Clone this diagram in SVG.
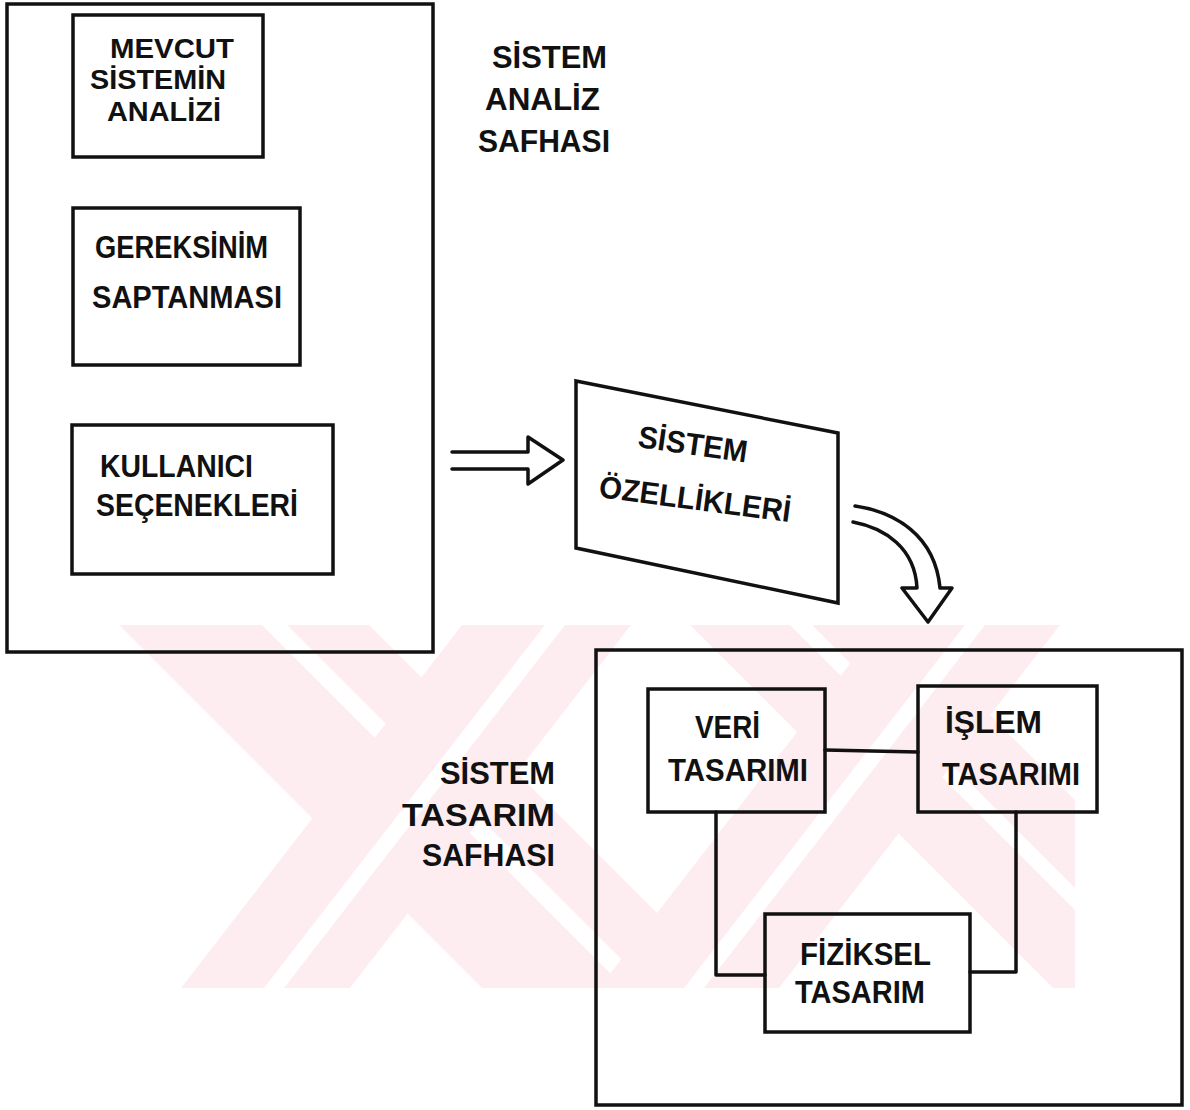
<svg xmlns="http://www.w3.org/2000/svg" width="1190" height="1110" viewBox="0 0 1190 1110">
<defs>
<style>
.box{fill:none;stroke:#111;stroke-width:3.5;stroke-linejoin:miter}
.ln{fill:none;stroke:#111;stroke-width:3.5;stroke-linecap:round;stroke-linejoin:round}
.t{font-family:"Liberation Sans","DejaVu Sans",sans-serif;font-weight:bold;font-size:31px;fill:#111}
.s{font-size:28px}
.wm{fill:#fdedf0}
.gap{fill:#fff}
</style>
<clipPath id="wmclip"><rect x="110" y="625" width="965" height="363"/></clipPath>
</defs>
<rect width="1190" height="1110" fill="#fff"/>
<g id="watermark" clip-path="url(#wmclip)">
<polygon class="wm" points="119,625 369,625 732,988 482,988"/>
<polygon class="gap" points="262,625 287,625 650,988 625,988"/>
<polygon class="wm" points="690,625 900,625 1263,988 1053,988"/>
<polygon class="gap" points="790,625 812,625 1175,988 1153,988"/>
<polygon class="wm" points="462,625 631,625 350,988 181,988"/>
<polygon class="gap" points="545,625 565,625 284,988 264,988"/>
<polygon class="wm" points="880,625 1060,625 779,988 599,988"/>
<polygon class="gap" points="965,625 985,625 704,988 684,988"/>
</g>
<g id="analysis-phase">
<rect class="box" x="7" y="4" width="426" height="648"/>
</g>
<g id="mevcut">
<rect class="box" x="73" y="15" width="190" height="142"/>
<text class="t s" x="110" y="58" textLength="124" lengthAdjust="spacingAndGlyphs">MEVCUT</text>
<text class="t s" x="90" y="89" textLength="136" lengthAdjust="spacingAndGlyphs">SİSTEMİN</text>
<text class="t s" x="107" y="121" textLength="114" lengthAdjust="spacingAndGlyphs">ANALİZİ</text>
</g>
<g id="gereksinim">
<rect class="box" x="73" y="208" width="227" height="157"/>
<text class="t" x="95" y="258" textLength="173" lengthAdjust="spacingAndGlyphs">GEREKSİNİM</text>
<text class="t" x="92" y="308" textLength="190" lengthAdjust="spacingAndGlyphs">SAPTANMASI</text>
</g>
<g id="kullanici">
<rect class="box" x="72" y="425" width="261" height="149"/>
<text class="t" x="100" y="477" textLength="153" lengthAdjust="spacingAndGlyphs">KULLANICI</text>
<text class="t" x="96" y="516" textLength="202" lengthAdjust="spacingAndGlyphs">SEÇENEKLERİ</text>
</g>
<g id="analysis-label">
<text class="t" x="492" y="68" textLength="115" lengthAdjust="spacingAndGlyphs">SİSTEM</text>
<text class="t" x="485" y="110" textLength="115" lengthAdjust="spacingAndGlyphs">ANALİZ</text>
<text class="t" x="478" y="152" textLength="132" lengthAdjust="spacingAndGlyphs">SAFHASI</text>
</g>
<g id="ozellikler">
<polygon class="box" points="576,381 838,433 838,603 576,548"/>
<text class="t" transform="translate(637,447) rotate(8)" textLength="110" lengthAdjust="spacingAndGlyphs">SİSTEM</text>
<text class="t" transform="translate(598,497) rotate(7.5)" textLength="193" lengthAdjust="spacingAndGlyphs">ÖZELLİKLERİ</text>
</g>
<g id="design-phase">
<rect class="box" x="596" y="650" width="586" height="455"/>
</g>
<g id="design-label">
<text class="t" x="555" y="784" text-anchor="end" textLength="115" lengthAdjust="spacingAndGlyphs">SİSTEM</text>
<text class="t" x="555" y="826" text-anchor="end" textLength="153" lengthAdjust="spacingAndGlyphs">TASARIM</text>
<text class="t" x="555" y="866" text-anchor="end" textLength="133" lengthAdjust="spacingAndGlyphs">SAFHASI</text>
</g>
<g id="veri">
<rect class="box" x="648" y="689" width="177" height="123"/>
<text class="t" x="695" y="738" textLength="65" lengthAdjust="spacingAndGlyphs">VERİ</text>
<text class="t" x="668" y="781" textLength="140" lengthAdjust="spacingAndGlyphs">TASARIMI</text>
</g>
<g id="islem">
<rect class="box" x="918" y="686" width="179" height="126"/>
<text class="t" x="945" y="733" textLength="97" lengthAdjust="spacingAndGlyphs">İŞLEM</text>
<text class="t" x="942" y="785" textLength="138" lengthAdjust="spacingAndGlyphs">TASARIMI</text>
</g>
<g id="fiziksel">
<rect class="box" x="765" y="914" width="205" height="118"/>
<text class="t" x="800" y="965" textLength="131" lengthAdjust="spacingAndGlyphs">FİZİKSEL</text>
<text class="t" x="795" y="1003" textLength="130" lengthAdjust="spacingAndGlyphs">TASARIM</text>
</g>
<g id="connectors">
<path class="ln" d="M452,452 H528 V437 L563,460 L528,484 V469 H452"/>
<path class="ln" d="M855,506 C895,512 935,535 940,588 H952 L928,622 L902,588 H917 C915,548 885,528 853,522"/>
<path class="ln" d="M825,750 L918,752"/>
<path class="ln" d="M716,812 V975 H765"/>
<path class="ln" d="M1016,812 V972 H970"/>
</g>
</svg>
